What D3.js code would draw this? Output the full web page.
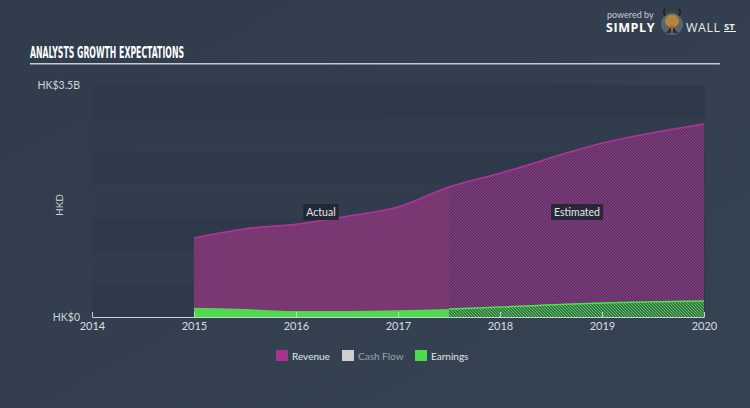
<!DOCTYPE html>
<html><head><meta charset="utf-8">
<script src="https://cdn.jsdelivr.net/npm/d3@7"></script>
<style>
html,body{margin:0;padding:0;background:#333f4f;}
svg{display:block;}
</style></head>
<body>
<svg id="c" width="750" height="408"></svg>
<script>
const years = [2015.0, 2015.5, 2016.0, 2016.5, 2017.0, 2017.5, 2018.0, 2019.0, 2020.0];
const revenue = [1.19, 1.33, 1.40, 1.52, 1.66, 1.96, 2.17, 2.62, 2.91];
const earnings = [0.14, 0.12, 0.09, 0.09, 0.10, 0.12, 0.15, 0.21, 0.24];
const actualEnd = 2017.5;
const xTicks = [2014, 2015, 2016, 2017, 2018, 2019, 2020];
const yTickLabels = ["HK$0", "HK$3.5B"];
const yMax = 3.5;
const legendItems = ["Revenue", "Cash Flow", "Earnings"];
const legendColors = ["#a8348f", "#cfcfcf", "#4fd94f"];

const svg = d3.select("#c");
const W = 750, H = 408;
const L = 92, R = 704, T = 85, B = 317;

const defs = svg.append("defs");
const bg = defs.append("linearGradient").attr("id","bg").attr("x1","0").attr("y1","0").attr("x2","1").attr("y2","1");
bg.append("stop").attr("offset","0").attr("stop-color","#303c4b");
bg.append("stop").attr("offset","1").attr("stop-color","#364352");
svg.append("rect").attr("width",W).attr("height",H).attr("fill","url(#bg)");

function hatch(id, color, base){
  const p = defs.append("pattern").attr("id",id).attr("patternUnits","userSpaceOnUse")
    .attr("width",3).attr("height",3);
  p.append("rect").attr("width",3).attr("height",3).attr("fill",base);
  p.append("path").attr("d","M-1,2 L1,4 M0,0 L3,3 M2,-1 L4,1").attr("stroke",color).attr("stroke-width",1.1);
}
hatch("hRev","#a2338e","#3a3a50");
hatch("hEarn","#4fd94f","#36444e");

const x = d3.scaleLinear().domain([2014,2020]).range([L,R]);
const y = d3.scaleLinear().domain([0,yMax]).range([B,T]);

const nb = 7;
for(let i=0;i<nb;i++){
  const v0 = yMax*i/nb, v1 = yMax*(i+1)/nb;
  svg.append("rect").attr("x",L).attr("width",R-L+1)
    .attr("y",y(v1)).attr("height",y(v0)-y(v1))
    .attr("fill", i%2===0 ? "#2e3a49" : "#313d4d");
}

const data = years.map((d,i)=>({t:d, r:revenue[i], e:earnings[i]}));
const curve = d3.curveMonotoneX;

const areaR = d3.area().x(d=>x(d.t)).y0(y(0)).y1(d=>y(d.r)).curve(curve);
const areaE = d3.area().x(d=>x(d.t)).y0(y(0)).y1(d=>y(d.e)).curve(curve);
const lineR = d3.line().x(d=>x(d.t)).y(d=>y(d.r)).curve(curve);
const lineE = d3.line().x(d=>x(d.t)).y(d=>y(d.e)).curve(curve);

defs.append("clipPath").attr("id","clipA").append("rect").attr("x",x(2015)).attr("y",0).attr("width",x(actualEnd)-x(2015)).attr("height",H);
defs.append("clipPath").attr("id","clipE").append("rect").attr("x",x(actualEnd)).attr("y",0).attr("width",x(2020)-x(actualEnd)).attr("height",H);

svg.append("path").datum(data).attr("d",areaR).attr("fill","#793872").attr("clip-path","url(#clipA)");
svg.append("path").datum(data).attr("d",areaR).attr("fill","url(#hRev)").attr("clip-path","url(#clipE)");
svg.append("path").datum(data).attr("d",lineR).attr("fill","none").attr("stroke","#b0349c").attr("stroke-width",1.5);

svg.append("path").datum(data).attr("d",areaE).attr("fill","#4fd94f").attr("clip-path","url(#clipA)");
svg.append("path").datum(data).attr("d",areaE).attr("fill","url(#hEarn)").attr("clip-path","url(#clipE)");
svg.append("path").datum(data).attr("d",lineE).attr("fill","none").attr("stroke","#4fe04f").attr("stroke-width",1.5).attr("clip-path","url(#clipE)");

const ax = d3.axisBottom(x).tickValues(xTicks).tickFormat(d3.format("d")).tickSize(5).tickSizeOuter(0);
const gx = svg.append("g").attr("transform",`translate(0,${B})`).call(ax);
gx.select(".domain").attr("stroke","#c9cfd6").attr("stroke-width",1.2);
gx.selectAll(".tick line").attr("stroke","#c9cfd6").attr("y1",-5).attr("y2",0);
gx.selectAll(".tick text").attr("fill","#d9dde2").attr("font-family","Lato, 'Open Sans', sans-serif").attr("font-size",11).attr("dy","0.9em").attr("y",3);

const yvals = [0, yMax];
svg.selectAll(".ylab").data(yvals).enter().append("text")
  .attr("x",80).attr("y",d=>y(d)+4).attr("text-anchor","end")
  .attr("fill","#d0d5db").attr("font-family","Lato, 'Open Sans', sans-serif").attr("font-size",10.5)
  .text((d,i)=>yTickLabels[i]);
svg.append("text").attr("transform","translate(63,205) rotate(-90)").attr("text-anchor","middle")
  .attr("fill","#d0d5db").attr("font-family","Lato, 'Open Sans', sans-serif").attr("font-size",10).text("HKD");

function tag(cx, cy, txt){
  const g = svg.append("g");
  const t = g.append("text").attr("x",cx).attr("y",cy+4).attr("text-anchor","middle")
    .attr("fill","#e6e6ea").attr("font-family","Lato, 'Open Sans', sans-serif").attr("font-size",10.5).text(txt);
  const bb = t.node().getBBox();
  g.insert("rect","text").attr("x",bb.x-3).attr("y",cy-8).attr("width",bb.width+6).attr("height",16)
    .attr("fill","#1f2430").attr("opacity",0.88);
}
tag(321, 212, "Actual");
tag(577, 212, "Estimated");

svg.append("text").attr("x",30).attr("y",58).attr("fill","#ffffff")
  .attr("font-family","'Liberation Sans Narrow','DejaVu Sans Condensed',sans-serif").attr("font-weight","bold")
  .attr("font-size",15).attr("textLength",154).attr("lengthAdjust","spacingAndGlyphs").text("ANALYSTS GROWTH EXPECTATIONS");
svg.append("rect").attr("x",30).attr("y",63).attr("width",690).attr("height",1.5).attr("fill","#c3cbd3");

const lx = [276, 342, 415];
legendItems.forEach((nm,i)=>{
  svg.append("rect").attr("x",lx[i]).attr("y",350).attr("width",12).attr("height",11).attr("fill",legendColors[i]);
  svg.append("text").attr("x",lx[i]+16).attr("y",359.5).attr("fill", i===1 ? "#9aa3ad" : "#e3e6ea")
    .attr("font-family","Lato, 'Open Sans', sans-serif").attr("font-size",10).text(nm);
});

svg.append("text").attr("x",607).attr("y",18).attr("fill","#c7ccd2").attr("font-family","Lato, sans-serif").attr("font-size",9).text("powered by");
svg.append("text").attr("x",606).attr("y",32).attr("fill","#ffffff").attr("font-family","'Open Sans', sans-serif").attr("font-weight","bold").attr("font-size",12.5).attr("letter-spacing",0.6).text("SIMPLY");
const lg = svg.append("g").attr("transform","translate(672,24)");
lg.append("circle").attr("r",11).attr("fill","#5a6470");
lg.append("ellipse").attr("cx",0).attr("cy",-3).attr("rx",7).attr("ry",6.5).attr("fill","#b5843c");
lg.append("path").attr("d","M-6,9 L0,2 L6,9 Z").attr("fill","#2a2f36");
lg.append("path").attr("d","M-1,3 L1,3 L0.5,9 L-0.5,9 Z").attr("fill","#e0632a");
lg.append("path").attr("d","M-7,-8 Q-10,-14 -6,-15 M7,-8 Q10,-14 6,-15").attr("stroke","#222").attr("stroke-width",1.5).attr("fill","none");
svg.append("text").attr("x",686).attr("y",32).attr("fill","#e8eaed").attr("font-family","'Open Sans', sans-serif").attr("font-size",12.5).attr("letter-spacing",0.5).text("WALL");
svg.append("text").attr("x",724).attr("y",30).attr("fill","#e8eaed").attr("font-family","'Open Sans', sans-serif").attr("font-weight","bold").attr("font-size",9.5).text("ST");
svg.append("rect").attr("x",724).attr("y",31).attr("width",12).attr("height",1).attr("fill","#e8eaed");
</script>
</body></html>
